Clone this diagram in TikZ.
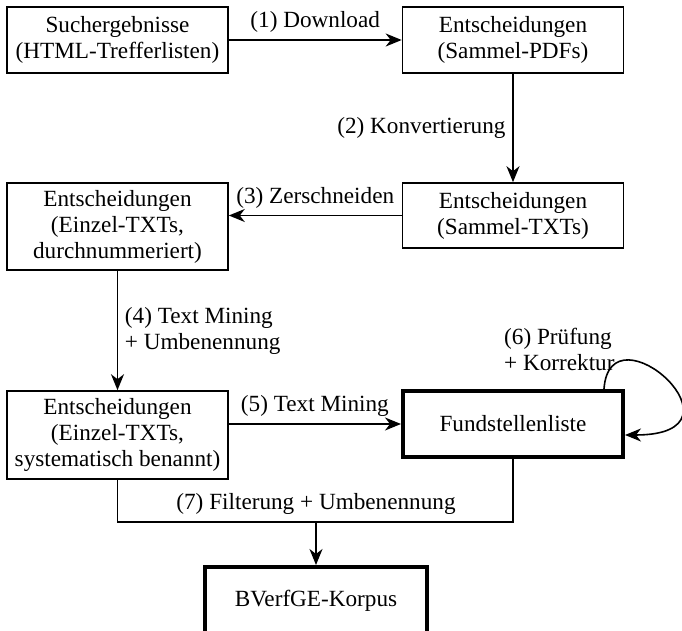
\documentclass[tikz,border=0pt]{standalone}
\usepackage{fontspec}
\setmainfont{Liberation Serif}
\usepackage{tikz}
\usetikzlibrary{arrows.meta,positioning}

\begin{document}
\begin{tikzpicture}[x=0.5pt,y=-0.5pt,font=\fontsize{11.6}{13}\selectfont,
  >={Stealth[length=8pt,width=6.5pt,inset=2.5pt]},
  box/.style={draw,line width=0.8pt,align=center,inner sep=2pt,minimum width=110.5pt,minimum height=33pt},
  mainbox/.style={box,line width=2pt},
  conn/.style={line width=0.8pt}]
  \useasboundingbox (0,0) rectangle (682,631);
  \node[box] (such) at (117.5,40) {Suchergebnisse\\(HTML-Trefferlisten)};
  \node[box] (pdfs) at (513,40) {Entscheidungen\\(Sammel-PDFs)};
  \node[box,minimum height=32.5pt] (txts) at (513,215.5) {Entscheidungen\\(Sammel-TXTs)};
  \node[box,minimum height=43.5pt] (einzel) at (117.5,226.5) {Entscheidungen\\(Einzel-TXTs,\\durchnummeriert)};
  \node[box,minimum height=44pt] (benannt) at (117.5,435) {Entscheidungen\\(Einzel-TXTs,\\systematisch benannt)};
  \node[mainbox,minimum width=110pt] (fund) at (513,424) {Fundstellenliste};
  \node[mainbox,minimum width=111pt,minimum height=33.5pt] (korpus) at (316,600.5) {BVerfGE-Korpus};
  \coordinate (join) at (316,522);

  \draw[conn,->] (such) -- node[above] {(1) Download} (pdfs);
  \draw[conn,->] (pdfs) -- node[left] {(2) Konvertierung} (txts);
  \draw[conn,->] (txts.west) -- node[above] {(3) Zerschneiden} (txts.west -| einzel.east);
  \draw[conn,->] (einzel) -- node[right,align=left] {(4) Text Mining\\+ Umbenennung} (benannt);
  \draw[conn,->] (fund.west -| benannt.east) -- node[above] {(5) Text Mining} (fund.west);
  % Pruefschleife
  \draw[conn,->] ([xshift=-10.5pt]fund.north east)
    node[anchor=south east,align=left,xshift=9pt,yshift=5.5pt] {(6) Prüfung\\+ Korrektur}
    .. controls +(6,-86) and +(132,0) .. ([yshift=-5.5pt]fund.east);
  \draw[conn] (benannt) |- (join) -| (fund);
  \draw[conn,->] (join) node[above] {(7) Filterung + Umbenennung} -- (korpus);
\end{tikzpicture}
\end{document}
